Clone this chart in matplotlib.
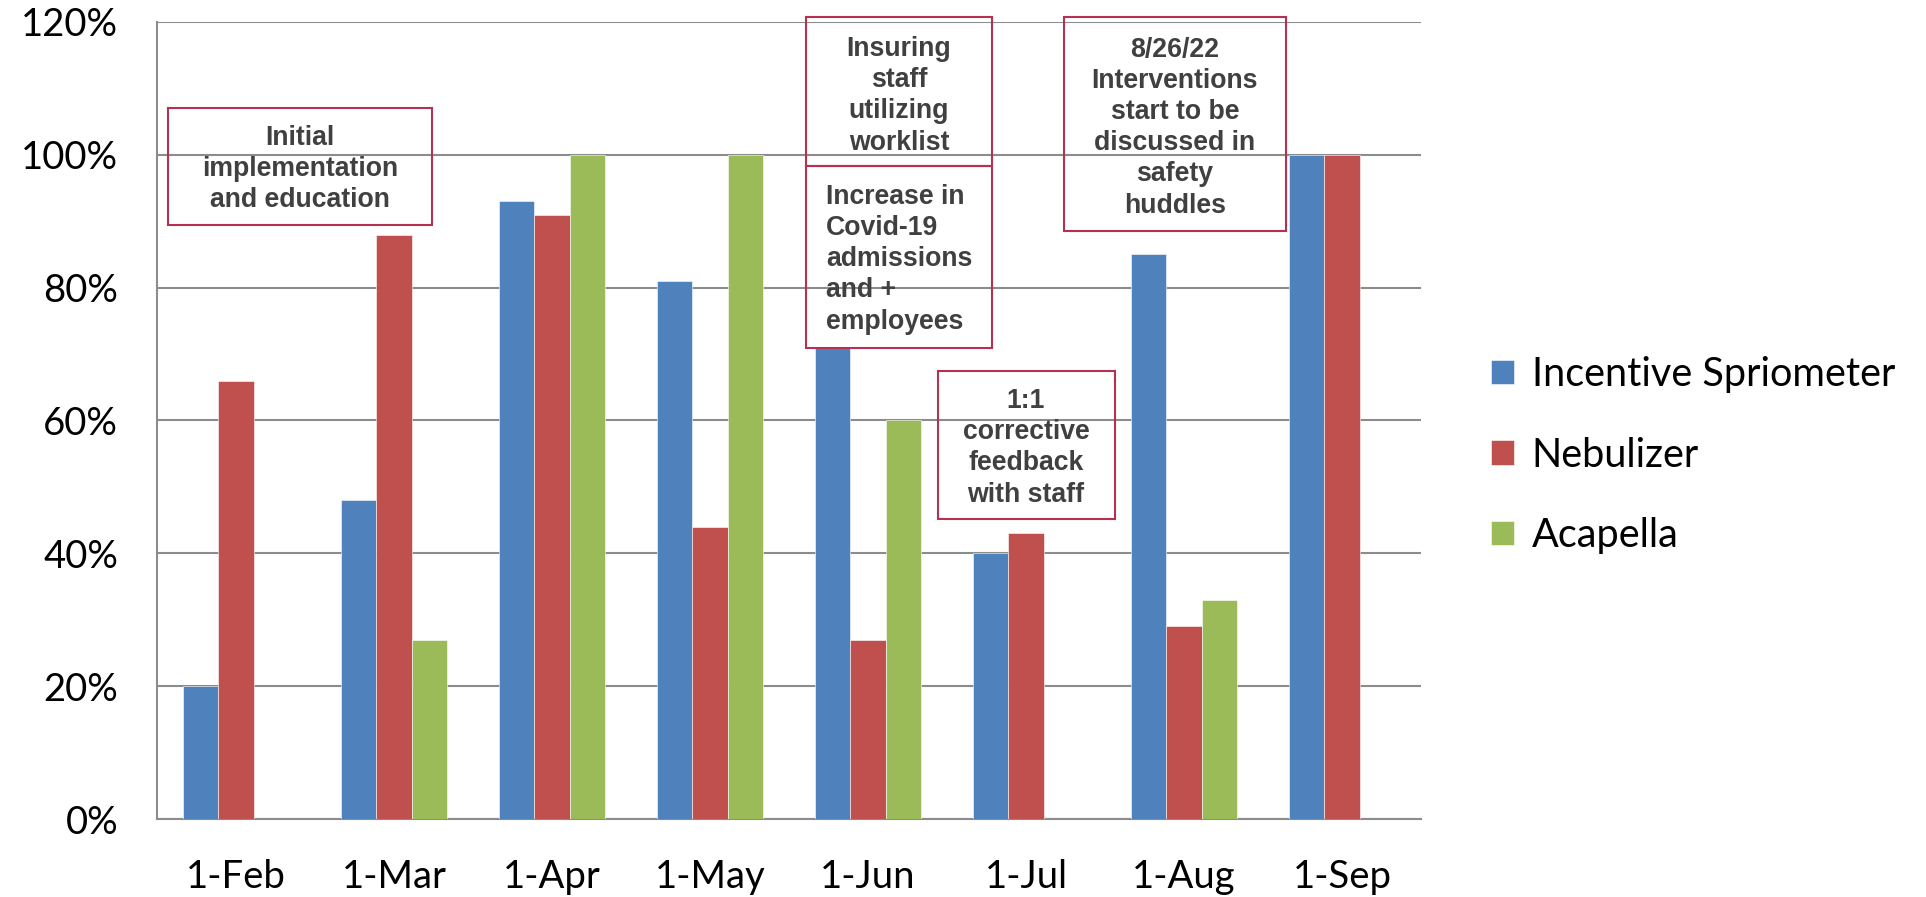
import matplotlib
matplotlib.use('Agg')
import matplotlib.pyplot as plt
import numpy as np
from matplotlib.patches import Rectangle
from matplotlib.ticker import FuncFormatter

# 月份与三类设备的使用率(%)
months = ['1-Feb', '1-Mar', '1-Apr', '1-May', '1-Jun', '1-Jul', '1-Aug', '1-Sep']
series_names = ['Incentive Spriometer', 'Nebulizer', 'Acapella']
incentive = [20, 48, 93, 81, 71, 40, 85, 100]
nebulizer = [66, 88, 91, 44, 27, 43, 29, 100]
acapella = [0, 27, 100, 100, 60, 0, 33, 0]

# 注释文字
notes = [
    'Initial\nimplementation\nand education',
    'Insuring\nstaff\nutilizing\nworklist',
    'Increase in\nCovid-19\nadmissions\nand +\nemployees',
    '8/26/22\nInterventions\nstart to be\ndiscussed in\nsafety\nhuddles',
    '1:1\ncorrective\nfeedback\nwith staff',
]

colors = ['#4F81BD', '#C0504D', '#9BBB59']
grid_c = '#8C8C8C'
box_c = '#B5314F'
note_c = '#404040'

f = plt.figure(figsize=(19.26, 8.97), dpi=100)
ax = f.add_axes([157/1926, 78/897, 1264/1926, 797/897])

x = np.arange(len(months))
w = 1 / 4.5
for i, (vals, c) in enumerate(zip([incentive, nebulizer, acapella], colors)):
    ax.bar(x + (i - 1) * w, np.array(vals) / 100, width=w, color=c,
           edgecolor='white', linewidth=0.4, label=series_names[i], zorder=3)

ax.set_xlim(-0.5, len(months) - 0.5)
ax.set_ylim(0, 1.2)
ax.set_yticks(np.arange(0, 1.21, 0.2))
ax.yaxis.set_major_formatter(FuncFormatter(lambda v, p: '%d%%' % round(v * 100)))
ax.set_xticks(x)
ax.set_xticklabels(months)
ax.grid(axis='y', color=grid_c, linewidth=1.5, zorder=0)
ax.tick_params(length=0, labelsize=27.5)
ax.tick_params(axis='y', pad=28)
ax.tick_params(axis='x', pad=29)
for lab in ax.get_xticklabels() + ax.get_yticklabels():
    lab.set_fontfamily('Lato')
for s in ['top', 'right']:
    ax.spines[s].set_visible(False)
for s in ['left', 'bottom']:
    ax.spines[s].set_color(grid_c)
    ax.spines[s].set_linewidth(1.5)

# 注释框 (x0, x1, y0, y1) 以及文字位置
boxes = [(-0.43, 1.24, 0.894, 1.070),
         (3.608, 4.785, 0.983, 1.207),
         (3.608, 4.785, 0.709, 0.983),
         (5.24, 6.646, 0.885, 1.207),
         (4.443, 5.563, 0.452, 0.674)]
text_pos = [(0.405, 0.979, 'center'),
            (4.196, 1.089, 'center'),
            (3.734, 0.843, 'left'),
            (5.943, 1.041, 'center'),
            (5.0, 0.559, 'center')]
for (x0, x1, y0, y1), (tx, ty, ha), s in zip(boxes, text_pos, notes):
    ax.add_patch(Rectangle((x0, y0), x1 - x0, y1 - y0, fill=False,
                           edgecolor=box_c, linewidth=1.5, clip_on=False, zorder=5))
    ax.text(tx, ty, s, ha=ha, va='center', multialignment=ha,
            fontsize=19.2, fontweight='bold', family='Liberation Sans',
            color=note_c, linespacing=1.26, zorder=6)

leg = ax.legend(loc='center left', bbox_to_anchor=(1491/1926, 1 - 455/897),
                bbox_transform=f.transFigure, frameon=False,
                prop={'family': 'Lato', 'size': 28.5},
                handlelength=0.58, handleheight=0.58, handletextpad=0.45,
                labelspacing=1.1, borderaxespad=0, borderpad=0)

plt.savefig('out.png')
